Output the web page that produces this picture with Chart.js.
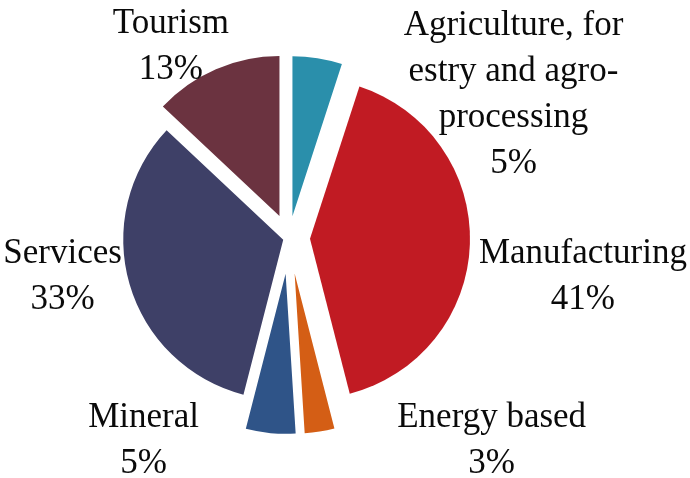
<!DOCTYPE html>
<html>
<head>
<meta charset="utf-8">
<title>Sectors</title>
<script src="https://cdn.jsdelivr.net/npm/chart.js@4.4.1/dist/chart.umd.min.js"></script>
<style>
  body { margin: 0; background: #fff; }
  #wrap { width: 690px; height: 478px; }
</style>
</head>
<body>
<div id="wrap"><canvas id="pieChart" width="690" height="478"></canvas></div>
<script>
//the data
var sectors = [
  ['Agriculture, for', 'estry and agro-', 'processing'],
  ['Manufacturing'],
  ['Energy based'],
  ['Mineral'],
  ['Services'],
  ['Tourism']
];
var shares = [5, 41, 3, 5, 33, 13];

//look of the slices
var sliceColors = ['#2A8FAB', '#C11B23', '#D45E15', '#2F5488', '#3E4067', '#6B3340'];
//how far each slice is pulled out of the pie
var explode = [22, 21, 36, 36, 6, 24];
//where each label sits, relative to the outer middle of its slice
var labelShift = [[196, 37], [113, 33], [172, 9], [-127, 8], [-67, -8], [-45, -22]];

var myChart;

//pulls each arc out along its middle angle (the built in offset also grows the radius)
var explodePlugin = {
  id: 'explode',
  afterDatasetUpdate: function(chart, args) {
    $each(args.meta.data, function(arc, i) {
      var mid = (arc.startAngle + arc.endAngle) / 2;
      arc.x = arc.x + Math.cos(mid) * explode[i];
      arc.y = arc.y + Math.sin(mid) * explode[i];
    });
  }
};

//draws the name and the percent next to every slice
var labelPlugin = {
  id: 'sliceLabels',
  afterDatasetsDraw: function(chart) {
    var ctx = chart.ctx;
    var meta = chart.getDatasetMeta(0);
    ctx.save();
    ctx.font = '35px "Liberation Serif", serif';
    ctx.fillStyle = '#0a0a0a';
    ctx.textAlign = 'center';
    ctx.textBaseline = 'middle';
    $each(meta.data, function(arc, i) {
      var mid = (arc.startAngle + arc.endAngle) / 2;
      var ax = arc.x + Math.cos(mid) * arc.outerRadius + labelShift[i][0];
      var ay = arc.y + Math.sin(mid) * arc.outerRadius + labelShift[i][1];
      var lines = sectors[i].concat([shares[i] + '%']);
      var lh = 46;
      var top = ay - (lines.length - 1) * lh / 2;
      for (var k = 0; k < lines.length; k++) {
        ctx.fillText(lines[k], ax, top + k * lh);
      }
    });
    ctx.restore();
  }
};

function $each(list, fn) {
  for (var i = 0; i < list.length; i++) fn(list[i], i);
}

var ctx = document.getElementById('pieChart').getContext('2d');
myChart = new Chart(ctx, {
  type: 'pie',
  data: {
    labels: sectors,
    datasets: [{
      data: shares,
      backgroundColor: sliceColors,
      borderWidth: 0
    }]
  },
  options: {
    responsive: false,
    devicePixelRatio: 1,
    animation: false,
    events: [],
    radius: 160,
    layout: {
      padding: { left: 0, right: 112, top: 0, bottom: 2 }
    },
    plugins: {
      legend: { display: false },
      tooltip: { enabled: false }
    }
  },
  plugins: [explodePlugin, labelPlugin]
});
</script>
</body>
</html>
